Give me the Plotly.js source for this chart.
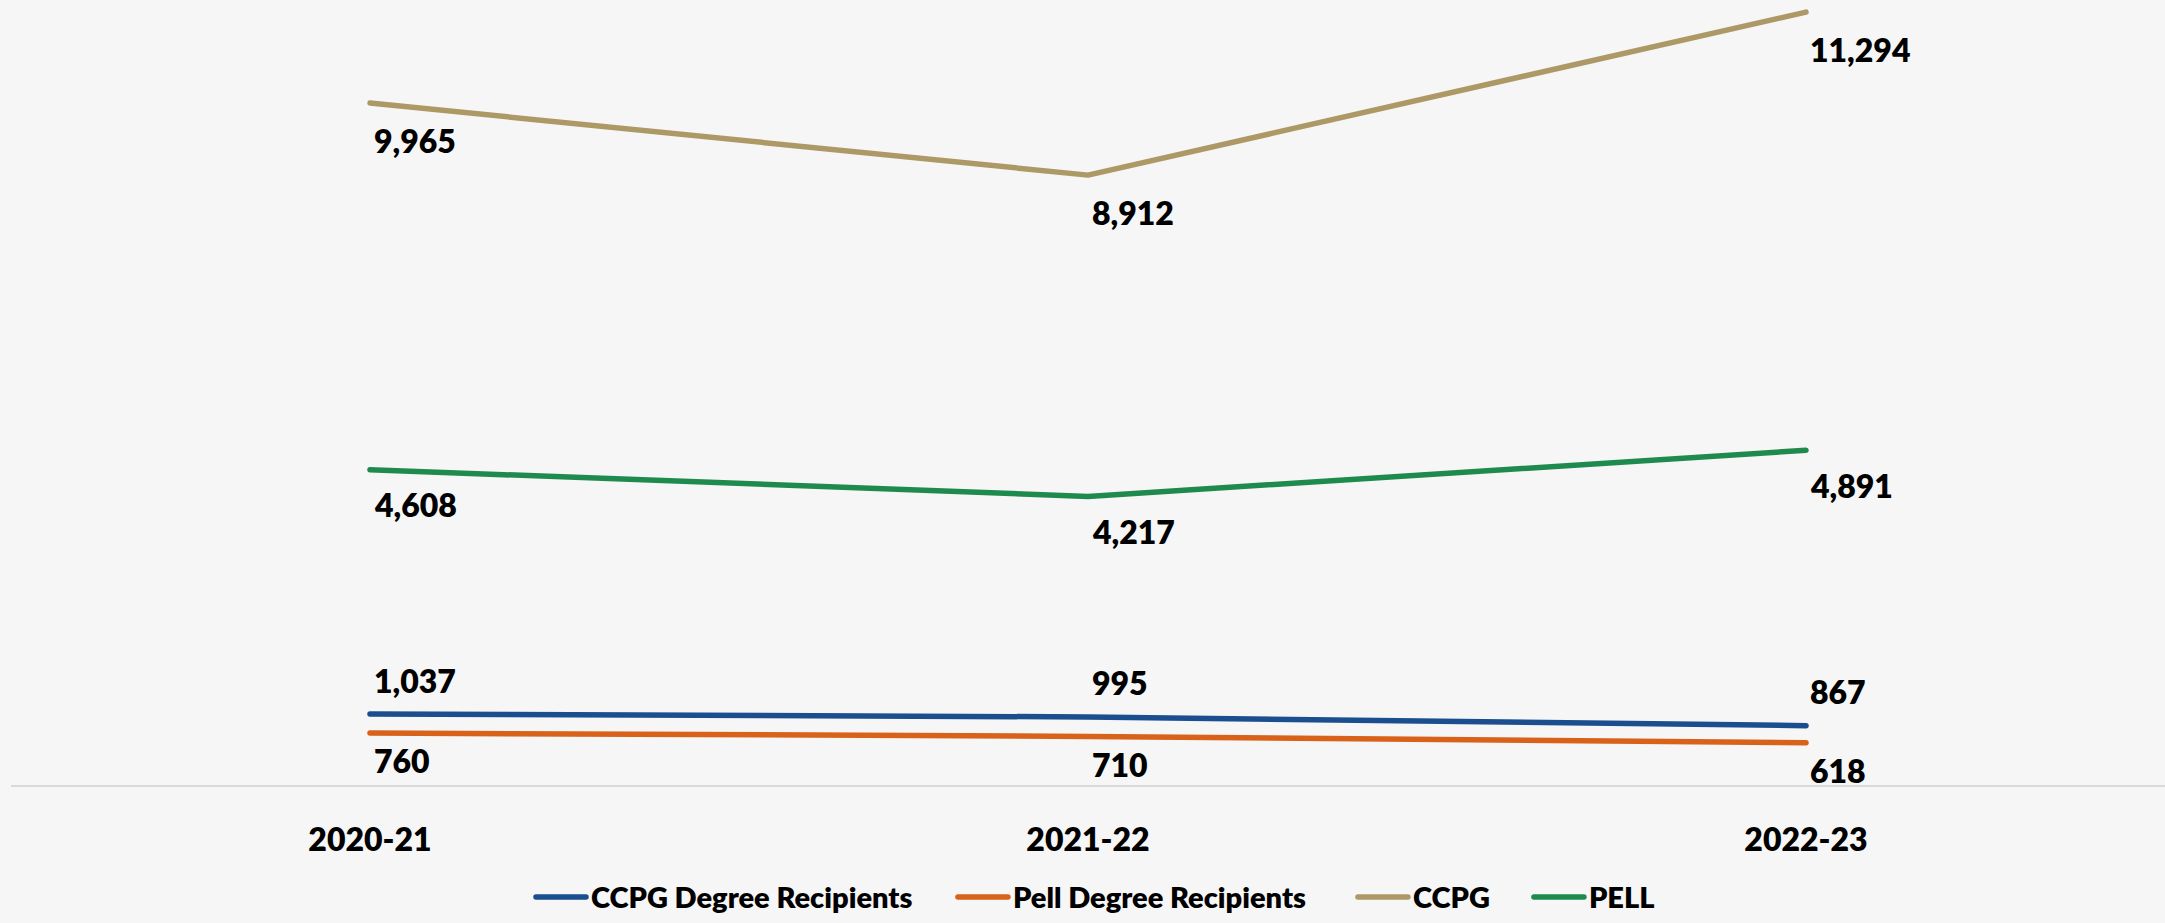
<!DOCTYPE html>
<html>
<head>
<meta charset="utf-8">
<script src="https://cdn.plot.ly/plotly-3.0.1.min.js"></script>
<style>
  html, body { margin: 0; padding: 0; background: #f6f6f6; }
  #chart { width: 2165px; height: 923px; }
  #chart .js-line { stroke-linecap: round; stroke-linejoin: round; }
</style>
</head>
<body>
<div id="chart"></div>
<script>
// ---- data ----
const categories = ['2020-21', '2021-22', '2022-23'];
const ccpgDegreeRecipients = [1037, 995, 867];
const pellDegreeRecipients = [760, 710, 618];
const ccpgTotal = [9965, 8912, 11294];
const pellTotal = [4608, 4217, 4891];
const seriesNames = ['CCPG Degree Recipients', 'Pell Degree Recipients', 'CCPG', 'PELL'];

// ---- styles ----
const FONT = 'Lato, "Open Sans", "DejaVu Sans", sans-serif';
const WEIGHT = 800;
const styles = [
  { color: '#1a4e8e', labelShift: 34,  legend: 'legend',  legendX: 0.2414 },
  { color: '#d8621a', labelShift: -28, legend: 'legend2', legendX: 0.4373 },
  { color: '#ad9966', labelShift: -37, legend: 'legend3', legendX: 0.6230 },
  { color: '#1f8a4e', labelShift: -35, legend: 'legend4', legendX: 0.7047 }
];
const seriesValues = [ccpgDegreeRecipients, pellDegreeRecipients, ccpgTotal, pellTotal];

const traces = seriesValues.map((vals, i) => ({
  type: 'scatter',
  mode: 'lines',
  x: categories,
  y: vals,
  name: seriesNames[i],
  legend: styles[i].legend,
  line: { color: styles[i].color, width: 5.5 },
  hoverinfo: 'skip'
}));

const annotations = [];
seriesValues.forEach((vals, i) => {
  vals.forEach((v, j) => {
    annotations.push({
      x: categories[j],
      y: v,
      xref: 'x', yref: 'y',
      text: v.toLocaleString('en-US'),
      showarrow: false,
      xanchor: 'left',
      yanchor: 'middle',
      xshift: 2,
      yshift: styles[i].labelShift,
      font: { family: FONT, size: 32, color: '#000000', weight: WEIGHT }
    });
  });
});

function legendCfg(x) {
  return {
    orientation: 'h',
    x: x, xanchor: 'left',
    y: -0.143, yanchor: 'middle',
    bgcolor: 'rgba(0,0,0,0)',
    borderwidth: 0,
    itemwidth: 50,
    font: { family: FONT, size: 29, color: '#000000', weight: WEIGHT }
  };
}

const layout = {
  width: 2165,
  height: 923,
  margin: { l: 11, r: 0, t: 0, b: 134 },
  paper_bgcolor: '#f6f6f6',
  plot_bgcolor: '#f6f6f6',
  showlegend: true,
  xaxis: {
    type: 'category',
    range: [-0.5, 2.5],
    showgrid: false,
    zeroline: false,
    showline: true,
    linecolor: '#d9d9d9',
    linewidth: 2,
    ticks: '',
    ticklabelstandoff: 26,
    tickfont: { family: FONT, size: 32, color: '#000000', weight: WEIGHT },
    fixedrange: true
  },
  yaxis: {
    range: [0, 11471],
    visible: false,
    showgrid: false,
    zeroline: false,
    fixedrange: true
  },
  annotations: annotations,
  legend: legendCfg(styles[0].legendX),
  legend2: legendCfg(styles[1].legendX),
  legend3: legendCfg(styles[2].legendX),
  legend4: legendCfg(styles[3].legendX)
};

Plotly.newPlot('chart', traces, layout, { staticPlot: true, displayModeBar: false });
</script>
</body>
</html>
